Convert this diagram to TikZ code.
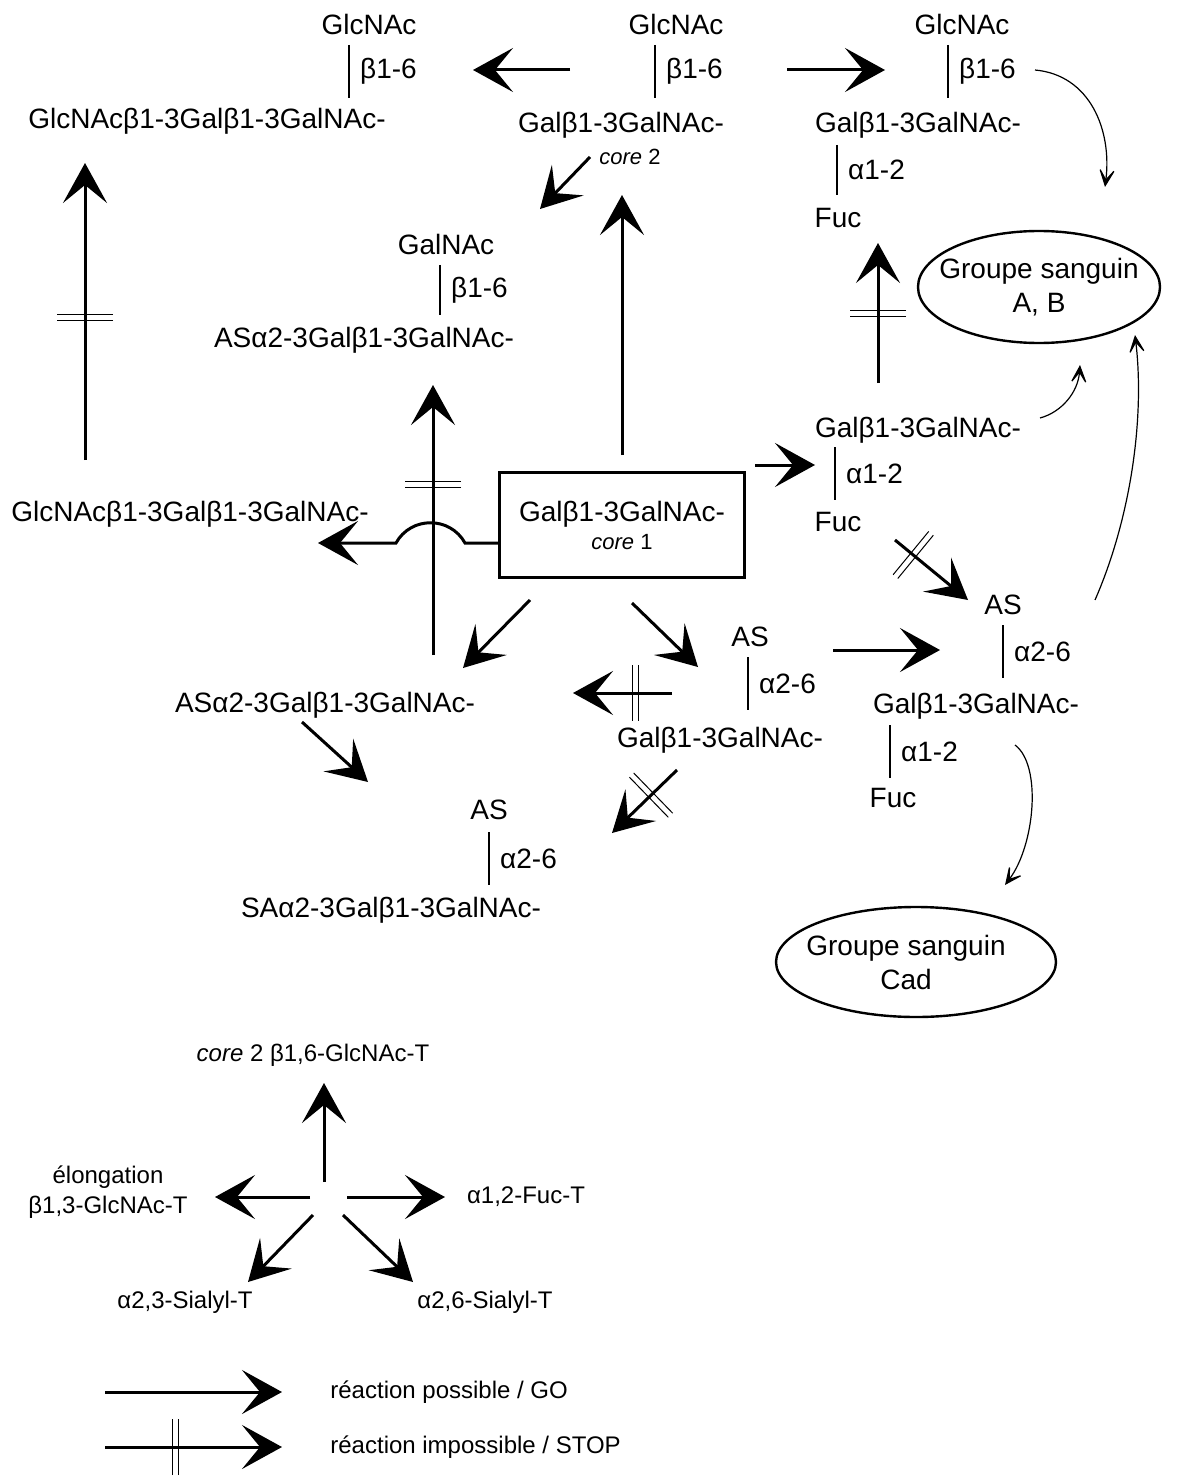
\documentclass[tikz,border=0pt]{standalone}
\usepackage{fontspec}
\setmainfont{Liberation Sans}
\usetikzlibrary{arrows.meta,decorations.markings}

\tikzset{
  sugar/.style={inner sep=1pt,font=\fontsize{14}{17}\selectfont},
  small/.style={inner sep=1pt,font=\fontsize{12}{15}\selectfont},
  lab/.style={sugar,midway,right,inner sep=0pt,xshift=5pt},
  bond/.style={line width=1.2pt},
  go/.style={line width=1.5pt,-{Stealth[length=20pt,width=22pt,inset=9pt]}},
  stopat/.style={go,postaction={decorate},decoration={markings,
    mark=at position #1 with {\draw[-,line width=0.5pt] (-1.5pt,-14pt) -- (-1.5pt,14pt) (1.5pt,-14pt) -- (1.5pt,14pt);}}},
  via/.style={line width=0.6pt,-{Stealth[length=11pt,width=10pt,inset=7pt]}},
  blood/.style={align=center,inner sep=0pt,font=\fontsize{14}{17}\selectfont}
}

\begin{document}
\begin{tikzpicture}[x=0.5pt,y=-0.5pt]
\useasboundingbox (0,0) rectangle (1183,1482);

% core 1
\node[draw,line width=1.5pt,minimum width=122.5pt,minimum height=52.5pt,align=center,font=\fontsize{14}{17}\selectfont] (core1) at (622,525)
  {Galβ1-3GalNAc-\\[-3pt]{\fontsize{11}{13}\selectfont\itshape core\/ \upshape 1}};

% top row
\node[sugar] (tlG) at (369,24) {GlcNAc};
\draw[bond] (349,45) -- (349,98) node[lab] (tlL) {β1-6};
\node[sugar] (tlS) at (207,121) {GlcNAcβ1-3Galβ1-3GalNAc-};

\node[sugar] (tcG) at (676,24) {GlcNAc};
\draw[bond] (655,45) -- (655,98) node[lab] (tcL) {β1-6};
\node[sugar] (tcS) at (621,125) {Galβ1-3GalNAc-};
\node[font=\fontsize{11}{13}\selectfont] (tcC) at (630,157) {\itshape core\/ \upshape 2};

\node[sugar] (trG) at (962,24) {GlcNAc};
\draw[bond] (948,45) -- (948,98) node[lab] (trL) {β1-6};
\node[sugar] (trS) at (918,125) {Galβ1-3GalNAc-};
\draw[bond] (837,145) -- (837,195) node[lab] (trL2) {α1-2};
\node[sugar] (trF) at (838,218) {Fuc};

\node[blood] (bgAB) at (1039,287) {Groupe sanguin\\A, B};
\draw[line width=1.2pt] (bgAB.center) ellipse [x radius=60.5pt, y radius=28pt];

% GalNAc branch
\node[sugar] (mgG) at (446,244) {GalNAc};
\draw[bond] (440,265) -- (440,315) node[lab] (mgL) {β1-6};
\node[sugar] (mgS) at (364,340) {ASα2-3Galβ1-3GalNAc-};

\node[sugar] (lS) at (190,514) {GlcNAcβ1-3Galβ1-3GalNAc-};

% fucosylated core 1
\node[sugar] (rmS) at (918,430) {Galβ1-3GalNAc-};
\draw[bond] (835,447) -- (835,500) node[lab] (rmL) {α1-2};
\node[sugar] (rmF) at (838,522) {Fuc};

\node[sugar] (rlA) at (1003,605) {AS};
\draw[bond] (1003,625) -- (1003,678) node[lab] (rlL) {α2-6};
\node[sugar] (rlS) at (976,706) {Galβ1-3GalNAc-};
\draw[bond] (890,725) -- (890,778) node[lab] (rlL2) {α1-2};
\node[sugar] (rlF) at (893,798) {Fuc};

\node[blood] (bgCad) at (906,962) {Groupe sanguin\\Cad};
\draw[line width=1.2pt] (916,962) ellipse [x radius=70pt, y radius=27.5pt];

% sialylated core 1
\node[sugar] (cmA) at (750,637) {AS};
\draw[bond] (748,657) -- (748,710) node[lab] (cmL) {α2-6};
\node[sugar] (cmS) at (720,740) {Galβ1-3GalNAc-};
\node[sugar] (lmS) at (325,705) {ASα2-3Galβ1-3GalNAc-};
\node[sugar] (bmA) at (489,810) {AS};
\draw[bond] (489,832) -- (489,885) node[lab] (bmL) {α2-6};
\node[sugar] (bmS) at (391,910) {SAα2-3Galβ1-3GalNAc-};

% arrow ends
\coordinate (s1) at (570,70);  \coordinate (e1) at (473,70);
\coordinate (s2) at (787,70);  \coordinate (e2) at (885,70);
\coordinate (s3) at (590,157); \coordinate (e3) at (540,209);
\coordinate (s4) at (85,460);  \coordinate (e4) at (85,163);
\coordinate (s5) at (622,455); \coordinate (e5) at (622,195);
\coordinate (s6) at (433,655); \coordinate (e6) at (433,385);
\coordinate (s7) at (878,383); \coordinate (e7) at (878,243);
\coordinate (s8) at (755,465); \coordinate (e8) at (815,465);
\coordinate (s9) at (895,540); \coordinate (e9) at (968,600);
\coordinate (s10) at (530,600); \coordinate (e10) at (463,668);
\coordinate (s11) at (632,603); \coordinate (e11) at (698,667);
\coordinate (s12) at (833,650); \coordinate (e12) at (940,650);
\coordinate (s13) at (672,693); \coordinate (e13) at (573,693);
\coordinate (s14) at (302,722); \coordinate (e14) at (368,782);
\coordinate (s15) at (677,770); \coordinate (e15) at (612,833);
\coordinate (h1) at (465,543);  \coordinate (h2) at (396,543);
\coordinate (e16) at (318,543);

\draw[go] (s1) -- (e1);
\draw[go] (s2) -- (e2);
\draw[go] (s3) -- (e3);
\draw[stopat=0.48] (s4) -- (e4);
\draw[go] (s5) -- (e5);
\draw[stopat=0.63] (s6) -- (e6);
\draw[stopat=0.5] (s7) -- (e7);
\draw[go] (s8) -- (e8);
\draw[stopat=0.25] (s9) -- (e9);
\draw[go] (s10) -- (e10);
\draw[go] (s11) -- (e11);
\draw[go] (s12) -- (e12);
\draw[stopat=0.37] (s13) -- (e13);
\draw[go] (s14) -- (e14);
\draw[stopat=0.4] (s15) -- (e15);
\draw[go] (core1.west |- h1) -- (h1) .. controls (450,516) and (411,516) .. (h2) -- (e16);

% thin arrows to the blood groups
\coordinate (t1) at (1035,70);  \coordinate (u1) at (1105,187);
\coordinate (t2) at (1040,418); \coordinate (u2) at (1080,365);
\coordinate (t3) at (1095,600); \coordinate (u3) at (1135,335);
\coordinate (t4) at (1015,745); \coordinate (u4) at (1005,885);
\draw[via] (t1) .. controls (1090,75) and (1112,130) .. (u1);
\draw[via] (t2) .. controls (1062,412) and (1078,392) .. (u2);
\draw[via] (t3) .. controls (1130,520) and (1145,420) .. (u3);
\draw[via] (t4) .. controls (1042,765) and (1035,845) .. (u4);

% enzymes
\node[small] (kC2) at (313,1055) {\itshape core\/ \upshape 2 β1,6-GlcNAc-T};
\node[small,align=center] (kEl) at (108,1192) {élongation\\β1,3-GlcNAc-T};
\node[small] (kFu) at (526,1197) {α1,2-Fuc-T};
\node[small] (kS3) at (185,1302) {α2,3-Sialyl-T};
\node[small] (kS6) at (485,1302) {α2,6-Sialyl-T};
\coordinate (ks1) at (324,1182); \coordinate (ke1) at (324,1083);
\coordinate (ks2) at (310,1197); \coordinate (ke2) at (215,1197);
\coordinate (ks3) at (347,1197); \coordinate (ke3) at (445,1197);
\coordinate (ks4) at (313,1215); \coordinate (ke4) at (248,1282);
\coordinate (ks5) at (343,1215); \coordinate (ke5) at (413,1282);
\draw[go] (ks1) -- (ke1);
\draw[go] (ks2) -- (ke2);
\draw[go] (ks3) -- (ke3);
\draw[go] (ks4) -- (ke4);
\draw[go] (ks5) -- (ke5);

% key
\coordinate (gs) at (105,1392); \coordinate (ge) at (282,1392);
\coordinate (ss) at (105,1447); \coordinate (se) at (282,1447);
\draw[go] (gs) -- (ge);
\draw[stopat=0.4] (ss) -- (se);
\node[small,right] (kGo) at (328,1392) {réaction possible / GO};
\node[small,right] (kStop) at (328,1447) {réaction impossible / STOP};
\end{tikzpicture}
\end{document}
